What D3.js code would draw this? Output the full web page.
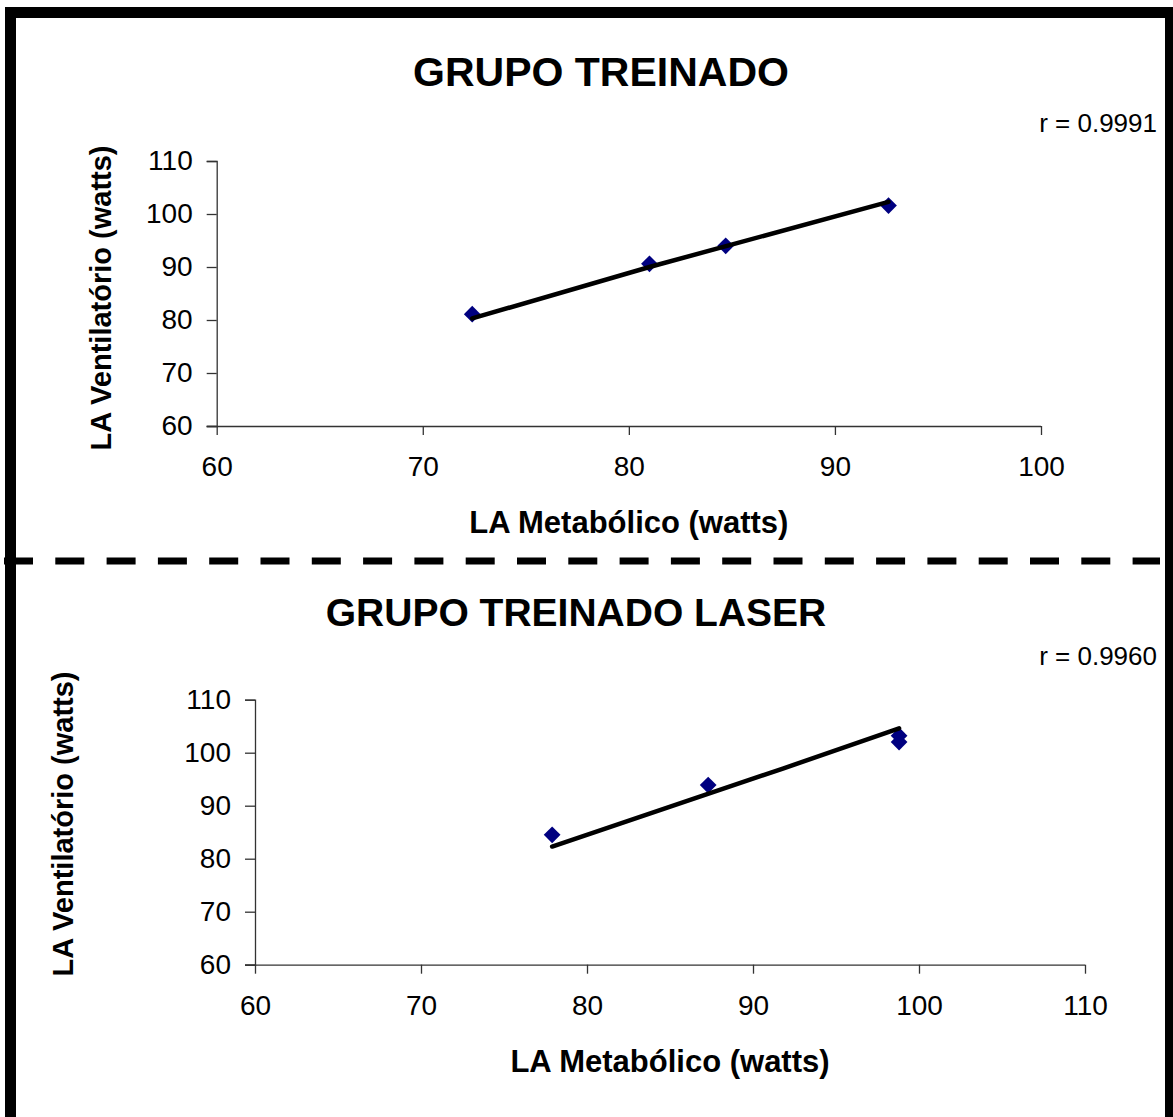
<!DOCTYPE html>
<html>
<head>
<meta charset="utf-8">
<script src="https://cdn.jsdelivr.net/npm/d3@7"></script>
<style>
  body { margin: 0; background: #fff; }
  svg { display: block; font-family: "Liberation Sans", Arial, sans-serif; }
</style>
</head>
<body>
<svg id="visu" width="1173" height="1117"></svg>
<script>
// data
var treinadoX = [72.4, 81.0, 84.7, 92.6],
    treinadoY = [81.1, 90.6, 94.0, 101.6],
    treinadoFitX = [72.4, 81.0, 92.6],
    treinadoFitY = [80.3, 90.0, 102.3],
    laserX = [77.9, 87.3, 98.8, 98.8],
    laserY = [84.5, 93.9, 103.2, 102.0],
    laserFitX = [77.9, 91.8, 98.8],
    laserFitY = [82.3, 97.0, 104.6],
    xTicksTop = [60, 70, 80, 90, 100],
    xTicksBottom = [60, 70, 80, 90, 100, 110],
    yTicks = [60, 70, 80, 90, 100, 110];

var vis = d3.select("#visu");

function zip(xs, ys) {
  return xs.map(function(x, i) { return {x: x, y: ys[i]}; });
}

var charts = [
  {
    title: "GRUPO TREINADO", titleX: 601, titleY: 86, titleSize: 41,
    r: "r = 0.9991", rY: 132,
    x0: 216.7, x1: 1041, y0: 426, y1: 161,
    xDomain: [60, 100], xTicks: xTicksTop,
    yTitleX: 111, yTitleY: 298,
    pts: zip(treinadoX, treinadoY),
    fit: zip(treinadoFitX, treinadoFitY)
  },
  {
    title: "GRUPO TREINADO LASER", titleX: 576, titleY: 626, titleSize: 39,
    r: "r = 0.9960", rY: 665,
    x0: 255, x1: 1085, y0: 964.7, y1: 699.7,
    xDomain: [60, 110], xTicks: xTicksBottom,
    yTitleX: 73, yTitleY: 824,
    pts: zip(laserX, laserY),
    fit: zip(laserFitX, laserFitY)
  }
];

charts.forEach(function(c) {
  var xScale = d3.scaleLinear().domain(c.xDomain).range([c.x0, c.x1]),
      yScale = d3.scaleLinear().domain([60, 110]).range([c.y0, c.y1]);

  var xAxis = d3.axisBottom(xScale).tickValues(c.xTicks).tickSize(9).tickPadding(21),
      yAxis = d3.axisLeft(yScale).tickValues(yTicks).tickSize(10).tickPadding(14);

  var gx = vis.append("g")
    .attr("transform", "translate(0," + c.y0 + ")")
    .call(xAxis);
  var gy = vis.append("g")
    .attr("transform", "translate(" + c.x0 + ",0)")
    .call(yAxis);

  [gx, gy].forEach(function(g) {
    g.select(".domain").attr("stroke", "#333").attr("stroke-width", 1.3);
    g.selectAll(".tick line").attr("stroke", "#333").attr("stroke-width", 1.3);
    g.selectAll(".tick text")
      .attr("font-size", 28)
      .attr("fill", "#000")
      .attr("font-family", "Liberation Sans, Arial, sans-serif");
  });
  // Excel style: ticks cross the axis line a bit
  gx.select(".domain").attr("d", "M" + (c.x0 - 10) + ",0.5H" + c.x1);

  // points
  vis.append("g").selectAll("path")
    .data(c.pts)
    .enter().append("path")
    .attr("d", d3.symbol().type(d3.symbolSquare).size(140))
    .attr("transform", function(d) {
      return "translate(" + xScale(d.x) + "," + yScale(d.y) + ") rotate(45)";
    })
    .attr("fill", "#000080");

  // fitted line
  var lineGen = d3.line()
    .x(function(d) { return xScale(d.x); })
    .y(function(d) { return yScale(d.y); });

  vis.append("path")
    .attr("d", lineGen(c.fit))
    .attr("fill", "none")
    .attr("stroke", "#000")
    .attr("stroke-width", 4.5)
    .attr("stroke-linecap", "round");

  // titles
  vis.append("text")
    .attr("x", c.titleX).attr("y", c.titleY)
    .attr("text-anchor", "middle")
    .attr("font-size", c.titleSize).attr("font-weight", "bold")
    .text(c.title);

  vis.append("text")
    .attr("x", 1157).attr("y", c.rY)
    .attr("text-anchor", "end")
    .attr("font-size", 26)
    .text(c.r);

  vis.append("text")
    .attr("x", (c.x0 + c.x1) / 2).attr("y", c.y0 + 107)
    .attr("text-anchor", "middle")
    .attr("font-size", 31).attr("font-weight", "bold")
    .text("LA Metabólico (watts)");

  vis.append("text")
    .attr("transform", "translate(" + c.yTitleX + "," + c.yTitleY + ") rotate(-90)")
    .attr("text-anchor", "middle")
    .attr("font-size", 29).attr("font-weight", "bold")
    .text("LA Ventilatório (watts)");
});

// outer frame and dashed separator
vis.append("rect")
  .attr("x", 10.5).attr("y", 12.5)
  .attr("width", 1160).attr("height", 1110)
  .attr("fill", "none")
  .attr("stroke", "#000")
  .attr("stroke-width", 11);

vis.append("line")
  .attr("x1", 4).attr("x2", 1160)
  .attr("y1", 561).attr("y2", 561)
  .attr("stroke", "#000")
  .attr("stroke-width", 7)
  .attr("stroke-dasharray", "29,22.3");
</script>
</body>
</html>
